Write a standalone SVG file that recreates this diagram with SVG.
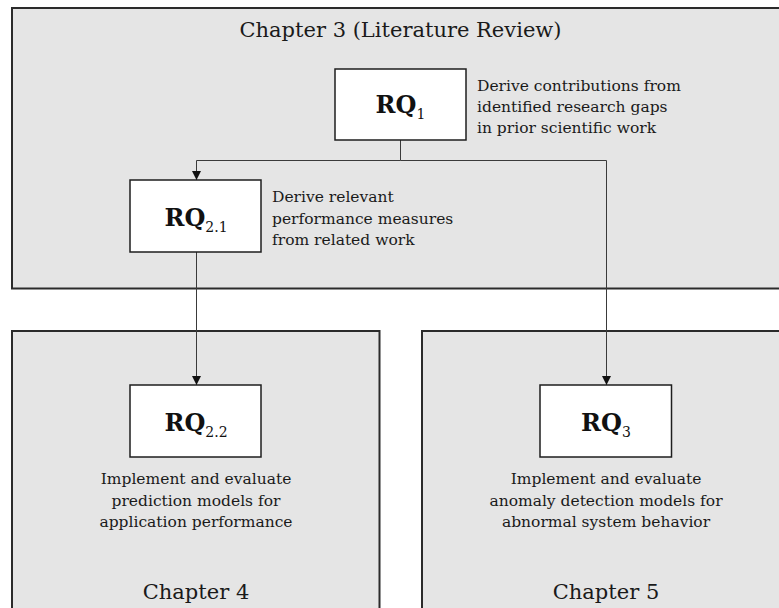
<svg xmlns="http://www.w3.org/2000/svg" width="779" height="608" viewBox="0 0 779 608">
  <style>
    .panel { fill: #e5e5e5; stroke: #2b2b2b; stroke-width: 2; }
    .rq { fill: #ffffff; stroke: #1e1e1e; stroke-width: 1.5; }
    .chap { font-family: "DejaVu Serif", "Liberation Serif", serif; font-size: 21px; fill: #1a1a1a; }
    .desc { font-family: "DejaVu Serif", "Liberation Serif", serif; font-size: 15.5px; fill: #1a1a1a; }
    .lbl { font-family: "DejaVu Serif", "Liberation Serif", serif; font-size: 24px; font-weight: bold; fill: #111111; }
    .sub { font-size: 14px; font-weight: normal; }
    .wire { fill: none; stroke: #3a3a3a; stroke-width: 1; }
  </style>
  <defs>
    <marker id="arrow" viewBox="0 0 10 10" refX="10" refY="5" markerWidth="9" markerHeight="9" markerUnits="userSpaceOnUse" orient="auto">
      <path d="M0,0 L10,5 L0,10 Z" fill="#111111"/>
    </marker>
  </defs>

  <rect width="779" height="608" fill="#ffffff"/>

  <!-- chapter panels -->
  <g id="chapter3">
    <rect class="panel" x="12" y="8" width="790" height="280.5"/>
    <text class="chap" x="400.5" y="37" text-anchor="middle">Chapter 3 (Literature Review)</text>
  </g>
  <g id="chapter4">
    <rect class="panel" x="12" y="331" width="367.5" height="300"/>
    <text class="chap" x="196" y="599" text-anchor="middle">Chapter 4</text>
  </g>
  <g id="chapter5">
    <rect class="panel" x="422" y="331" width="400" height="300"/>
    <text class="chap" x="606" y="599" text-anchor="middle">Chapter 5</text>
  </g>

  <!-- connectors -->
  <g id="connectors">
    <path class="wire" d="M400.5,140 V160.5 H196.5 V180" marker-end="url(#arrow)"/>
    <path class="wire" d="M400.5,160.5 H606.5 V385" marker-end="url(#arrow)"/>
    <path class="wire" d="M196.5,252 V385" marker-end="url(#arrow)"/>
  </g>

  <!-- research questions -->
  <g id="rq1">
    <rect class="rq" x="335" y="69" width="131" height="71"/>
    <text class="lbl" x="400.5" y="113" text-anchor="middle">RQ<tspan class="sub" dy="6">1</tspan></text>
    <text class="desc" x="477" y="91">Derive contributions from</text>
    <text class="desc" x="477" y="112">identified research gaps</text>
    <text class="desc" x="477" y="133">in prior scientific work</text>
  </g>
  <g id="rq2_1">
    <rect class="rq" x="130" y="180" width="131" height="72"/>
    <text class="lbl" x="196" y="225.5" text-anchor="middle">RQ<tspan class="sub" dy="6">2.1</tspan></text>
    <text class="desc" x="272" y="202">Derive relevant</text>
    <text class="desc" x="272" y="223.5">performance measures</text>
    <text class="desc" x="272" y="245">from related work</text>
  </g>
  <g id="rq2_2">
    <rect class="rq" x="130" y="385" width="131" height="72"/>
    <text class="lbl" x="196" y="430.5" text-anchor="middle">RQ<tspan class="sub" dy="6">2.2</tspan></text>
    <text class="desc" x="196" y="484" text-anchor="middle">Implement and evaluate</text>
    <text class="desc" x="196" y="505.5" text-anchor="middle">prediction models for</text>
    <text class="desc" x="196" y="527" text-anchor="middle">application performance</text>
  </g>
  <g id="rq3">
    <rect class="rq" x="540" y="385" width="131.5" height="72"/>
    <text class="lbl" x="606" y="430.5" text-anchor="middle">RQ<tspan class="sub" dy="6">3</tspan></text>
    <text class="desc" x="606" y="484" text-anchor="middle">Implement and evaluate</text>
    <text class="desc" x="606" y="505.5" text-anchor="middle">anomaly detection models for</text>
    <text class="desc" x="606" y="527" text-anchor="middle">abnormal system behavior</text>
  </g>
</svg>
